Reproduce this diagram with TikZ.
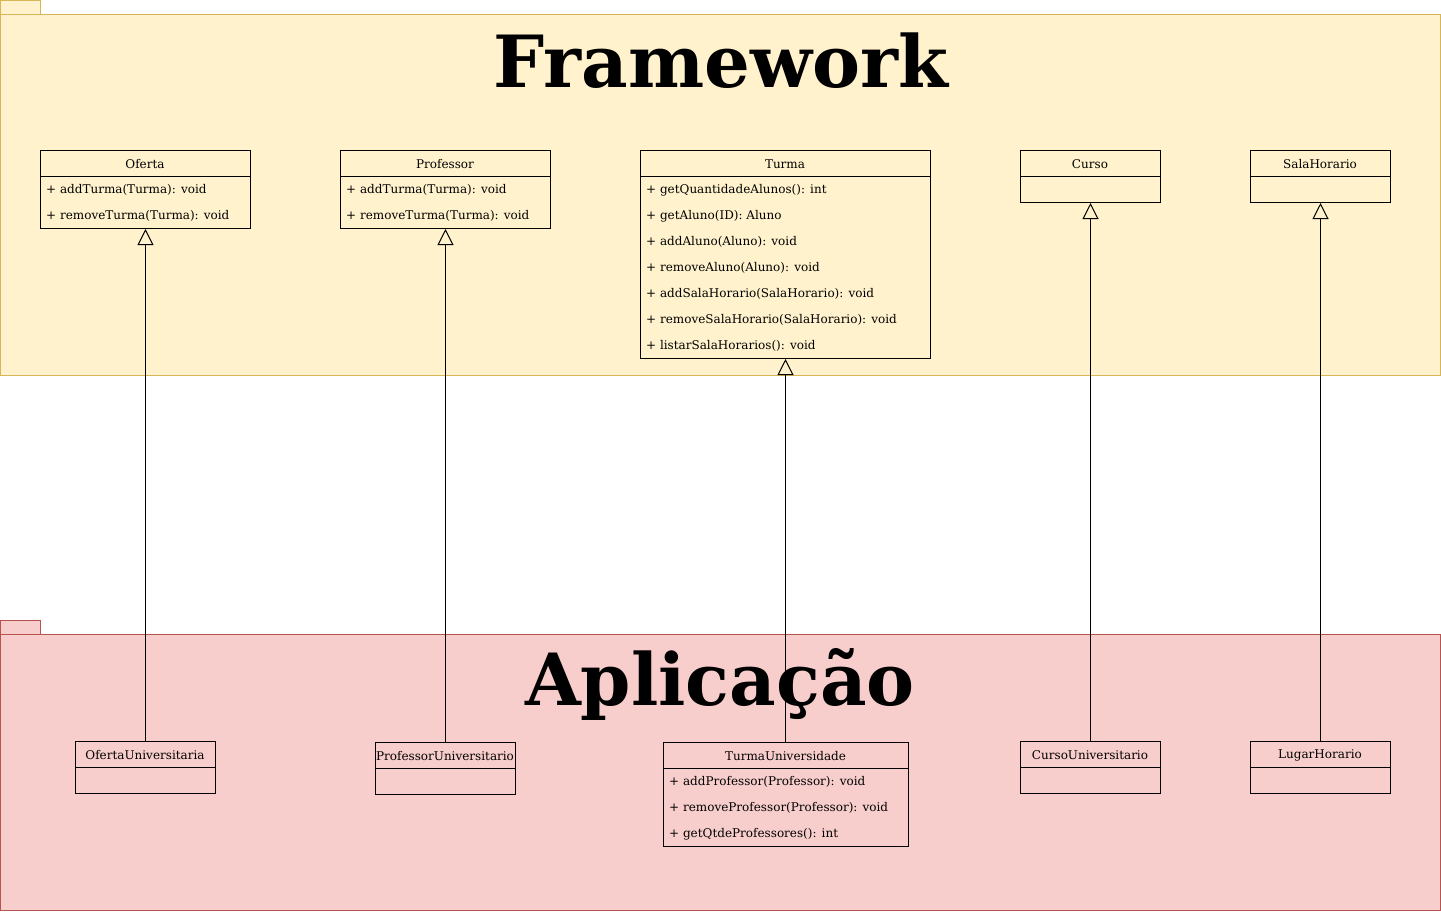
\documentclass[tikz,border=0pt]{standalone}
\usepackage{fontspec}
\setmainfont{DejaVu Serif}
\usetikzlibrary{arrows.meta}
\definecolor{fwfill}{HTML}{FFF2CC}
\definecolor{fwline}{HTML}{D6B656}
\definecolor{apfill}{HTML}{F8CECC}
\definecolor{apline}{HTML}{B85450}
\tikzset{
  pkgbody/.style={line width=1pt},
  clsbox/.style={draw=black, line width=1pt, inner sep=0pt, anchor=north west},
  clstitle/.style={inner sep=0pt, font=\fontsize{12}{14}\selectfont, text=black},
  member/.style={inner sep=0pt, anchor=west, font=\fontsize{12}{14}\selectfont, text=black},
  pkgtitle/.style={inner sep=0pt, font=\fontsize{72}{80}\selectfont\bfseries, anchor=base},
  gen/.style={draw=black, line width=1pt, -{Triangle[open, length=16pt, width=16pt, line width=1pt]}}
}
% name, x, y, width, height, title
\newcommand\umlbox[6]{%
  \node[clsbox, minimum width=#4pt, minimum height=#5pt] (#1) at (#2,#3) {};
  \draw[line width=1pt] (#2,#3+26) -- ++(#4,0);
  \node[clstitle] (#1-t) at (#2+#4/2,#3+14) {#6};
}
\begin{document}
\begin{tikzpicture}[x=1pt,y=-1pt]
\useasboundingbox (0,0) rectangle (1441,911);
% packages
\draw[pkgbody, fill=fwfill, draw=fwline] (0.5,0.5) rectangle (40.5,14.5);
\draw[pkgbody, fill=fwfill, draw=fwline] (0.5,14.5) rectangle (1440.5,375.5);
\draw[pkgbody, fill=apfill, draw=apline] (0.5,620.5) rectangle (40.5,634.5);
\draw[pkgbody, fill=apfill, draw=apline] (0.5,634.5) rectangle (1440.5,910.5);
\node[pkgtitle] (fwtitle) at (721,87) {Framework};
\node[pkgtitle] (aptitle) at (720,705) {Aplicação};

% framework classes
\umlbox{oferta}{40}{150}{210}{78}{Oferta}
\node[member] (oferta-1) at (46,190) {+ addTurma(Turma): void};
\node[member] (oferta-2) at (46,216) {+ removeTurma(Turma): void};

\umlbox{professor}{340}{150}{210}{78}{Professor}
\node[member] (professor-1) at (346,190) {+ addTurma(Turma): void};
\node[member] (professor-2) at (346,216) {+ removeTurma(Turma): void};

\umlbox{turma}{640}{150}{290}{208}{Turma}
\node[member] (turma-1) at (646,190) {+ getQuantidadeAlunos(): int};
\node[member] (turma-2) at (646,216) {+ getAluno(ID): Aluno};
\node[member] (turma-3) at (646,242) {+ addAluno(Aluno): void};
\node[member] (turma-4) at (646,268) {+ removeAluno(Aluno): void};
\node[member] (turma-5) at (646,294) {+ addSalaHorario(SalaHorario): void};
\node[member] (turma-6) at (646,320) {+ removeSalaHorario(SalaHorario): void};
\node[member] (turma-7) at (646,346) {+ listarSalaHorarios(): void};

\umlbox{curso}{1020}{150}{140}{52}{Curso}
\umlbox{sala}{1250}{150}{140}{52}{SalaHorario}

% application classes
\umlbox{ofertaU}{75}{741}{140}{52}{OfertaUniversitaria}
\umlbox{professorU}{375}{742}{140}{52}{ProfessorUniversitario}
\umlbox{turmaU}{663}{742}{245}{104}{TurmaUniversidade}
\node[member] (turmaU-1) at (669,782) {+ addProfessor(Professor): void};
\node[member] (turmaU-2) at (669,808) {+ removeProfessor(Professor): void};
\node[member] (turmaU-3) at (669,834) {+ getQtdeProfessores(): int};
\umlbox{cursoU}{1020}{741}{140}{52}{CursoUniversitario}
\umlbox{lugar}{1250}{741}{140}{52}{LugarHorario}

% generalizations
\draw[gen] (ofertaU.north) -- (oferta.south);
\draw[gen] (professorU.north) -- (professor.south);
\draw[gen] (turmaU.north -| turma.south) -- (turma.south);
\draw[gen] (cursoU.north) -- (curso.south);
\draw[gen] (lugar.north) -- (sala.south);
\end{tikzpicture}
\end{document}
